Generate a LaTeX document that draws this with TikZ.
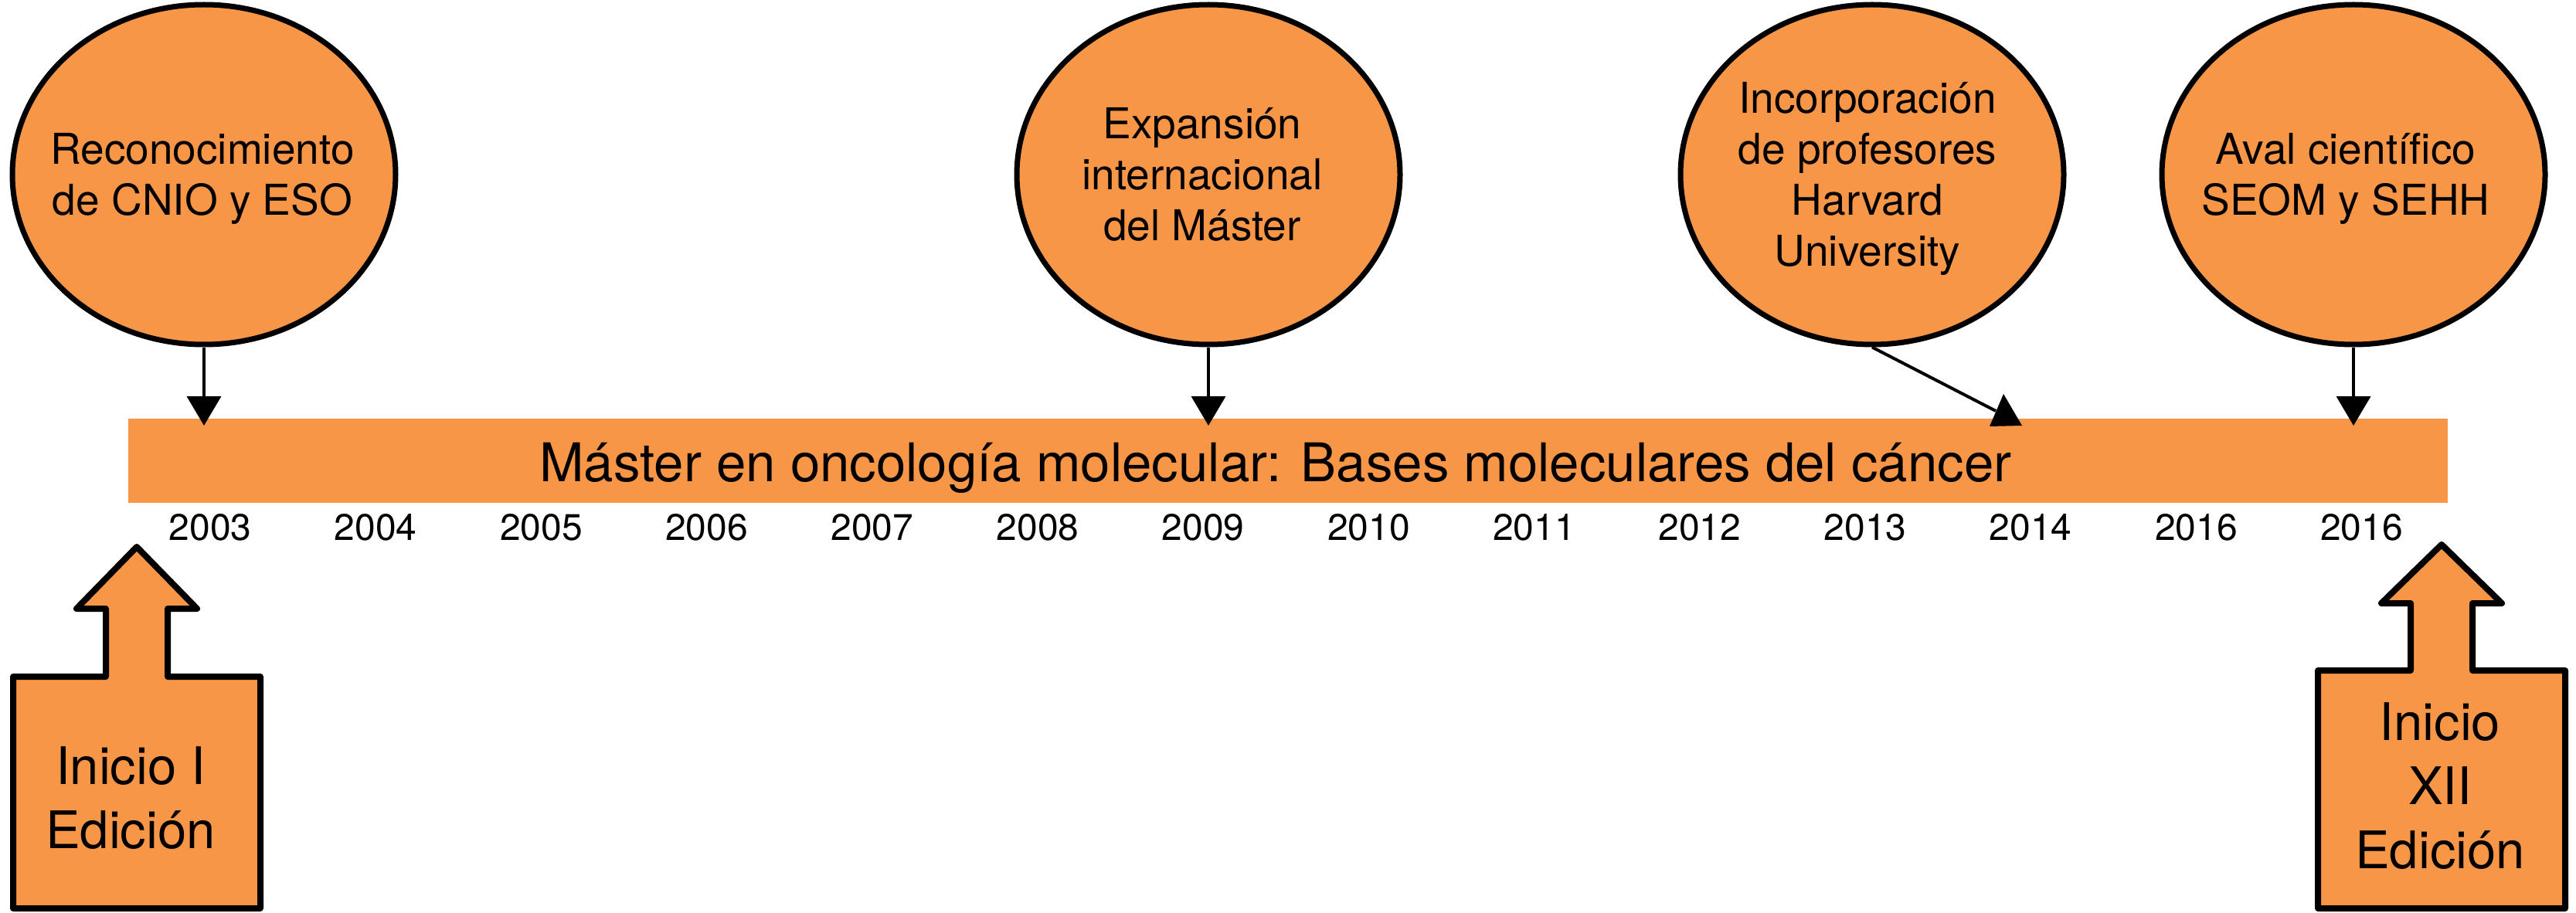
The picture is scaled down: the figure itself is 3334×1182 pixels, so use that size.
\documentclass[tikz,border=0pt]{standalone}
\usepackage{fontspec}
\setmainfont{TeX Gyre Heros}
\usetikzlibrary{shapes.geometric,arrows.meta}
\definecolor{orng}{RGB}{247,150,70}
\newcommand{\linesT}[1]{\begin{tabular}[t]{@{}c@{}}#1\end{tabular}}
\begin{document}
\begin{tikzpicture}[x=0.5pt,y=-0.5pt,
  event/.style={ellipse, draw=black, line width=3.5pt, fill=orng, minimum width=248pt, minimum height=220pt, inner sep=0pt},
  eventtext/.style={anchor=base, inner sep=0pt, font=\fontsize{27.5}{33}\selectfont},
  conn/.style={line width=2pt, -{Triangle[width=22pt,length=19pt]}},
  plainconn/.style={line width=2pt},
  yearlbl/.style={anchor=base, font=\fontsize{24}{28}\selectfont},
  upbox/.style={draw=black, fill=orng, line width=4pt, line join=round},
  boxtext/.style={anchor=base, inner sep=0pt, font=\fontsize{33.5}{41.5}\selectfont}]
\useasboundingbox (0,0) rectangle (3334,1182);

% timeline bar
\node[fill=orng, minimum width=1501pt, minimum height=54.5pt, inner sep=0pt, anchor=north west] (bar) at (166,542) {};
\node[anchor=base, font=\fontsize{34.5}{40}\selectfont] (bartxt) at (1651,623) {Máster en oncología molecular: Bases moleculares del cáncer};

% events
\node[event] (c1) at (264,226) {};
\node[event] (c2) at (1564,226) {};
\node[event] (c3) at (2423,226) {};
\node[event] (c4) at (3046,226) {};
\node[eventtext] (c1txt) at (262,213) {\linesT{Reconocimiento\\de CNIO y ESO}};
\node[eventtext] (c2txt) at (1556,180) {\linesT{Expansión\\internacional\\del Máster}};
\node[eventtext] (c3txt) at (2417,147) {\linesT{Incorporación\\de profesores\\Harvard\\University}};
\node[eventtext] (c4txt) at (3036,213) {\linesT{Aval científico\\SEOM y SEHH}};

% connectors
\coordinate (t1) at (264,551);
\coordinate (t2) at (1564,551);
\coordinate (t3) at (2583,532);
\coordinate (t4) at (3046,551);
\draw[conn] (c1.south) -- (t1);
\draw[conn] (c2.south) -- (t2);
\draw[plainconn] (c3.south) -- (t3);
\fill (2593,510) -- (2575,552) -- (2617,551) -- cycle;
\draw[conn] (c4.south) -- (t4);

% years
\foreach \yr [count=\i from 0] in {2003,2004,2005,2006,2007,2008,2009,2010,2011,2012,2013,2014,2016,2016}
  \node[yearlbl] (y\i) at ({272+214.2*\i},699) {\yr};

% start arrows
\draw[upbox] (17,1176) -- (17,876) -- (137,876) -- (137,788) -- (99,788) -- (177,708) -- (255,788) -- (217,788) -- (217,876) -- (337,876) -- (337,1176) -- cycle;
\node[boxtext] (inicio1) at (169,1015) {\linesT{Inicio I\\Edición}};

\draw[upbox] (3000,1176) -- (3000,868) -- (3120,868) -- (3120,781) -- (3082,781) -- (3160,705) -- (3238,781) -- (3200,781) -- (3200,868) -- (3320,868) -- (3320,1176) -- cycle;
\node[boxtext] (inicio12) at (3158,958) {\linesT{Inicio\\XII\\Edición}};
\end{tikzpicture}
\end{document}
